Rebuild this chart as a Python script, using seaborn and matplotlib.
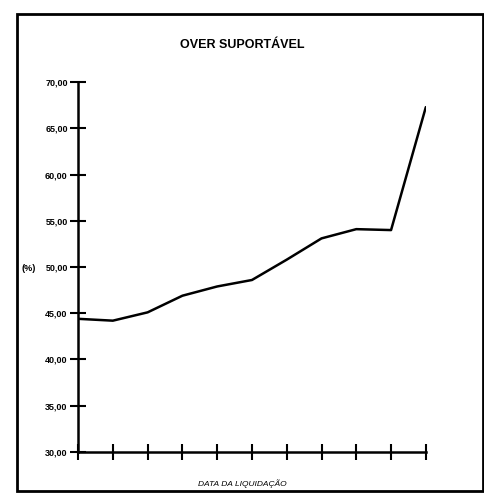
import matplotlib
matplotlib.use("Agg")
import pandas as pd
import seaborn as sns
import matplotlib.pyplot as plt
from matplotlib.patches import Rectangle

# valores (11 datas de liquidação, sem rótulos)
periodo = list(range(11))
over = [44.4, 44.2, 45.1, 46.9, 47.9, 48.6, 50.8, 53.1, 54.1, 54.0, 67.3]
yticks = [30, 35, 40, 45, 50, 55, 60, 65, 70]

df = pd.DataFrame({"periodo": periodo, "over": over})

sns.set_style("white")
plt.rcParams["font.family"] = ["Liberation Sans", "DejaVu Sans"]
plt.rcParams["text.color"] = "black"
plt.rcParams["ytick.color"] = "black"
plt.rcParams["xtick.color"] = "black"

fig = plt.figure(figsize=(4.85, 4.95), dpi=100)
ax = fig.add_axes([0.161, 0.087, 0.717, 0.747])

sns.lineplot(data=df, x="periodo", y="over", color="black", linewidth=1.8, ax=ax)

ax.set_xlim(0, 10)
ax.set_ylim(30, 70)
ax.set_xticks(periodo)
ax.set_xticklabels([])
ax.set_yticks(yticks)
ax.set_yticklabels([f"{v:.2f}".replace(".", ",") for v in yticks],
                   fontsize=6.5, fontweight="bold", color="black")
ax.tick_params(axis="both", direction="inout", length=11, width=1.5,
               color="black", left=True, bottom=True, pad=2)
for side in ["top", "right"]:
    ax.spines[side].set_visible(False)
for side in ["left", "bottom"]:
    ax.spines[side].set_color("black")
    ax.spines[side].set_linewidth(1.8)
ax.set_xlabel("")
ax.set_ylabel("")

fig.text(0.5, 0.91, "OVER SUPORTÁVEL", ha="center", va="center",
         fontsize=9, fontweight="bold", color="black")
fig.text(0.045, 0.458, "(%)", ha="left", va="center", fontsize=6.5,
         fontweight="bold", color="black")
fig.text(0.5, 0.022, "DATA DA LIQUIDAÇÃO", ha="center", va="center",
         fontsize=6, style="italic", color="black")

fig.patches.append(Rectangle((0.035, 0.008), 0.96, 0.964, transform=fig.transFigure,
                             fill=False, edgecolor="black", linewidth=2))

fig.savefig("out.png", dpi=100)
